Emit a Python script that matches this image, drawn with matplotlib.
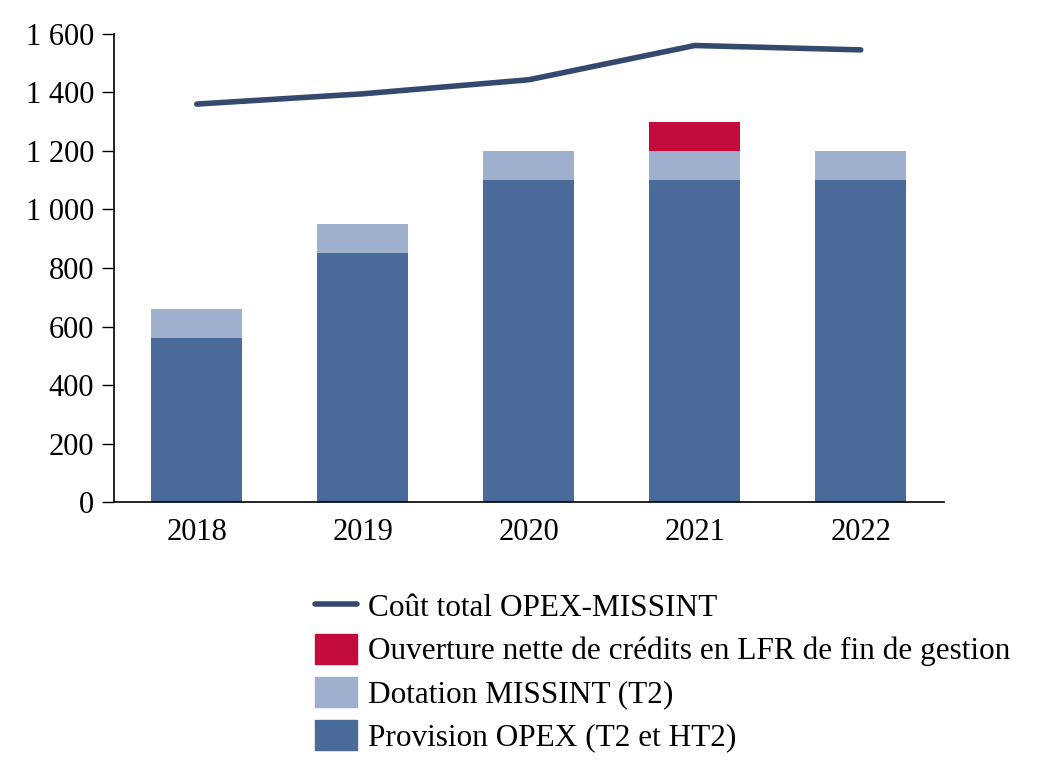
import matplotlib.pyplot as plt
from matplotlib.ticker import FuncFormatter
from matplotlib.patches import Patch
from matplotlib.lines import Line2D
import numpy as np

plt.rcParams['font.family'] = ['Liberation Serif', 'DejaVu Serif']

years = ['2018', '2019', '2020', '2021', '2022']
provision = [560, 850, 1100, 1100, 1100]
dotation = [100, 100, 100, 100, 100]
lfr = [0, 0, 0, 100, 0]
cout_total = [1360, 1395, 1443, 1560, 1545]

c_prov = '#4a6b99'
c_dot = '#9eb0ce'
c_lfr = '#c30b3c'
c_line = '#34496d'

fig = plt.figure(figsize=(10.44, 7.68), dpi=100)
ax = fig.add_axes([0.109, 0.346, 0.795, 0.61])

x = np.arange(len(years))
w = 0.55
ax.bar(x, provision, w, color=c_prov)
ax.bar(x, dotation, w, bottom=provision, color=c_dot)
bot2 = [p + d for p, d in zip(provision, dotation)]
ax.bar(x, lfr, w, bottom=bot2, color=c_lfr)
ax.plot(x, cout_total, color=c_line, lw=4, solid_capstyle='round')

ax.set_xlim(-0.5, 4.5)
ax.set_ylim(0, 1600)
ax.set_yticks(range(0, 1601, 200))
ax.yaxis.set_major_formatter(FuncFormatter(lambda v, p: f'{int(v):,}'.replace(',', ' ')))
ax.set_xticks(x)
ax.set_xticklabels(years)
ax.tick_params(axis='x', length=0, pad=11, labelsize=22)
ax.tick_params(axis='y', length=9, width=1, direction='out', labelsize=22, pad=5)
for s in ['top', 'right']:
    ax.spines[s].set_visible(False)
ax.spines['left'].set_linewidth(1.2)
ax.spines['bottom'].set_linewidth(1.2)

handles = [
    Line2D([0], [0], color=c_line, lw=4, solid_capstyle='round'),
    Patch(color=c_lfr),
    Patch(color=c_dot),
    Patch(color=c_prov),
]
labels = ['Coût total OPEX-MISSINT',
          'Ouverture nette de crédits en LFR de fin de gestion',
          'Dotation MISSINT (T2)',
          'Provision OPEX (T2 et HT2)']
fig.legend(handles, labels, loc='upper left', bbox_to_anchor=(0.29, 0.247),
           frameon=False, fontsize=22.5, handlelength=1.35, handleheight=1.1,
           handletextpad=0.35, labelspacing=0.33, borderaxespad=0)

fig.savefig('out.png', dpi=100)
